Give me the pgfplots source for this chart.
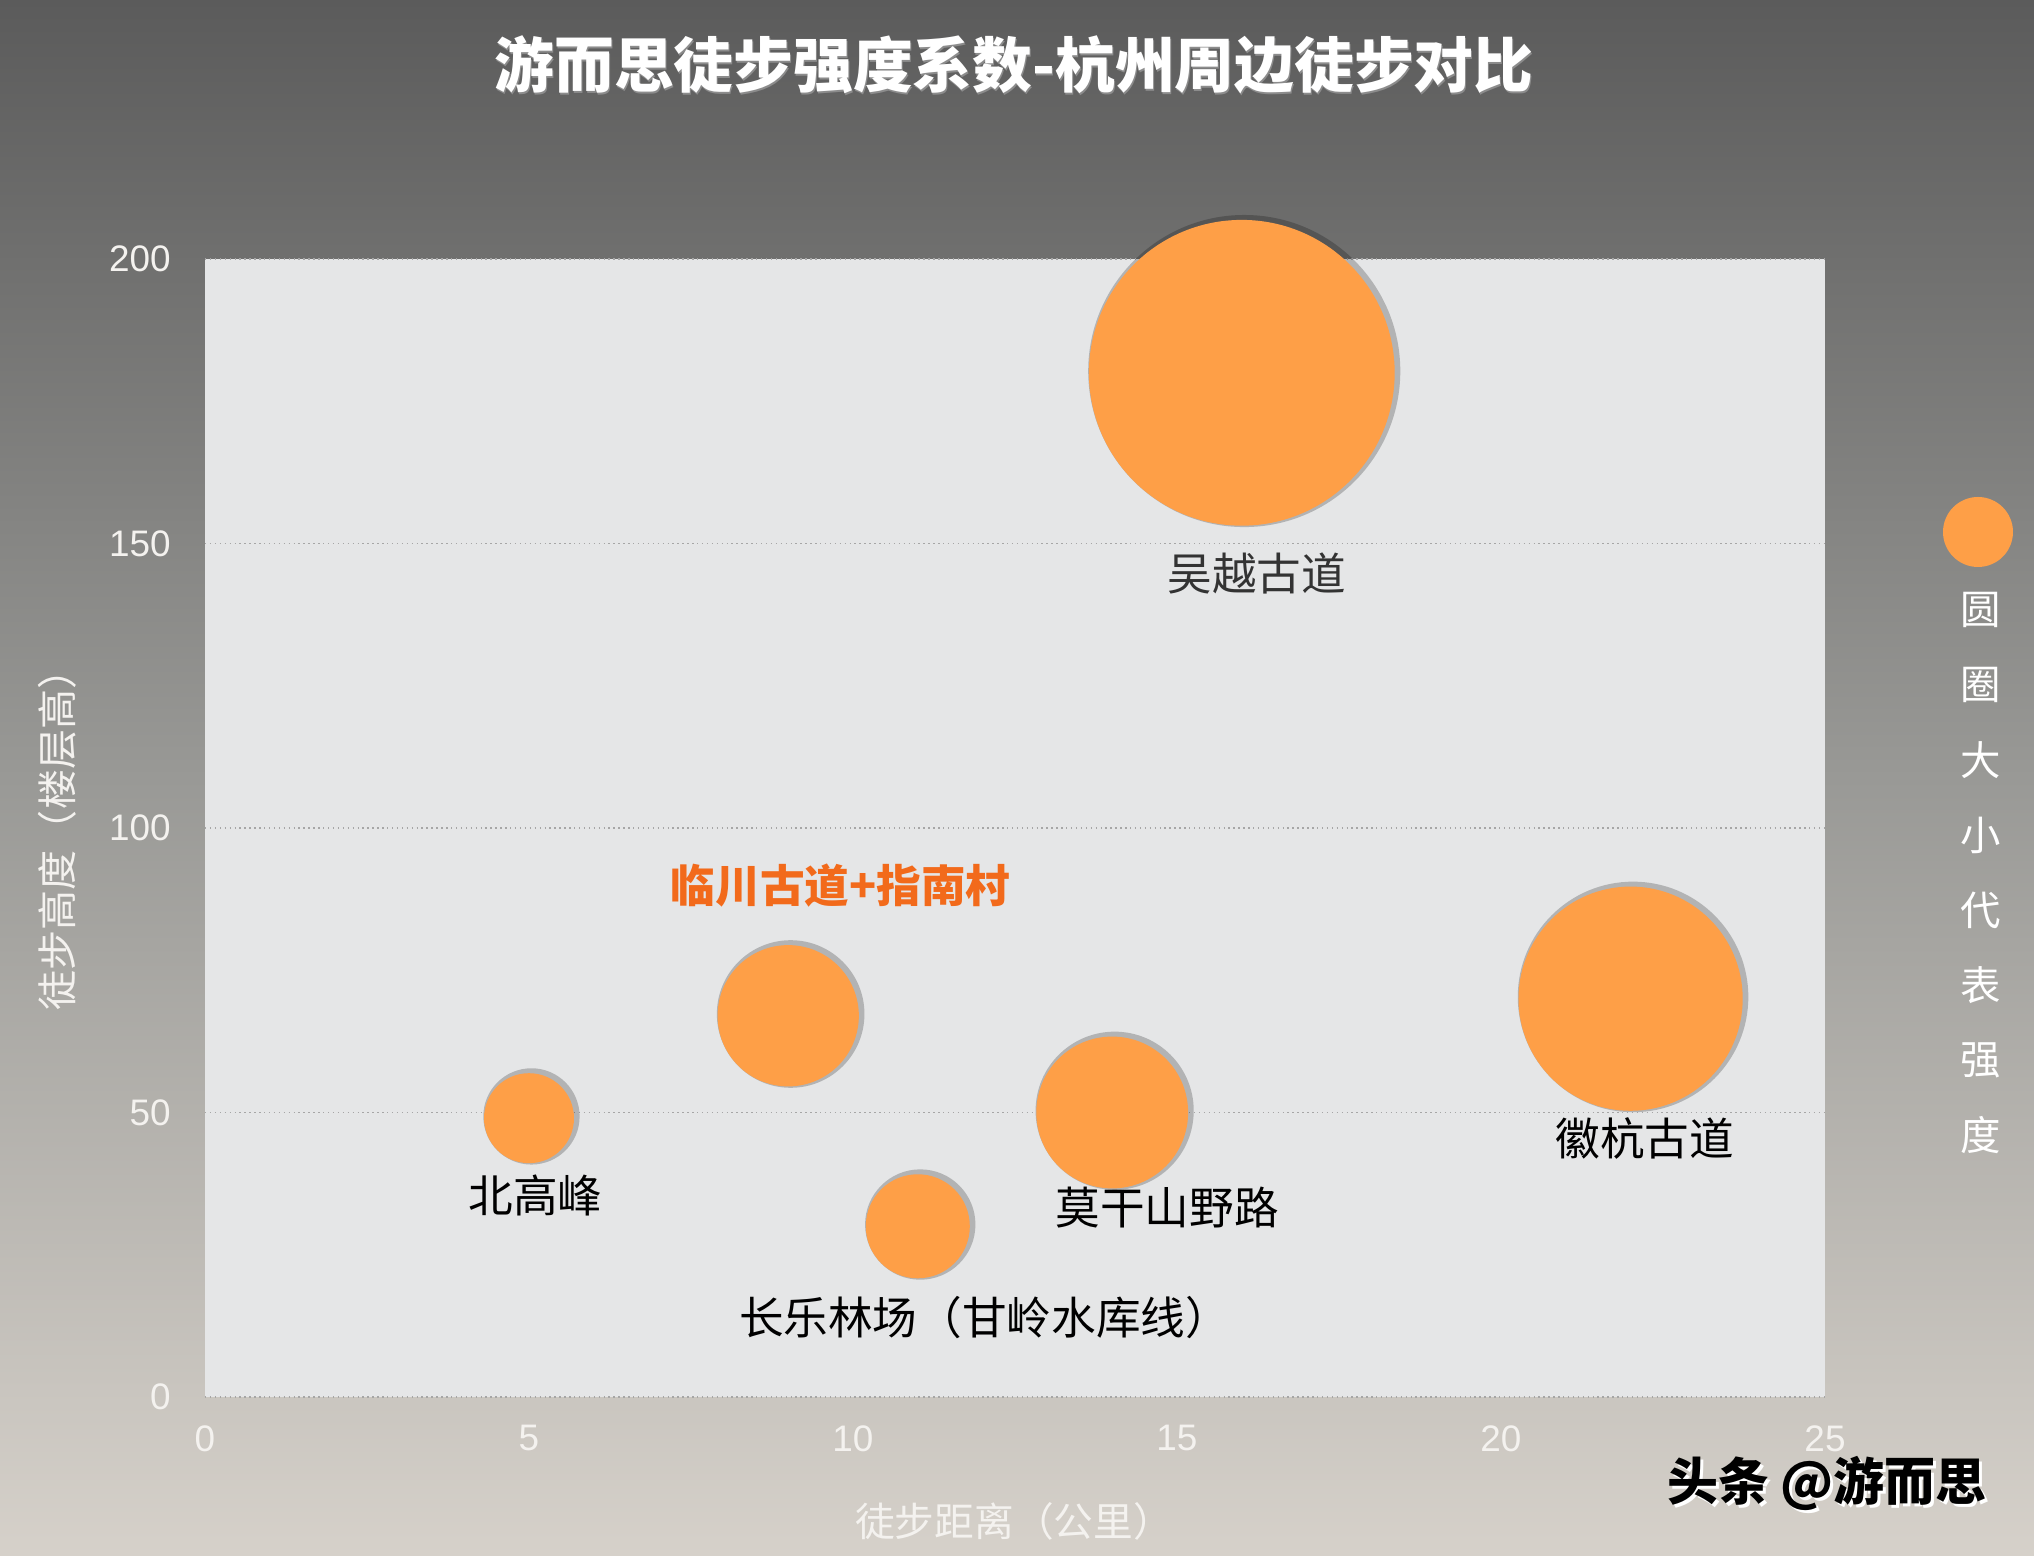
\documentclass[border=0pt]{standalone}
\usepackage{pgfplots}
\pgfplotsset{compat=1.18}
\usepackage{fontspec}
\setmainfont{Liberation Sans}
\newfontfamily\cjk{Noto Sans CJK SC}

\definecolor{bgtop}{HTML}{5B5B5B}
\definecolor{bgmid}{HTML}{999996}
\definecolor{bgbot}{HTML}{D6D1CA}
\definecolor{plotbg}{HTML}{E5E6E7}
\definecolor{bubble}{HTML}{FE9F47}
\definecolor{hilite}{HTML}{F26A1B}
\definecolor{axtext}{HTML}{F4F2EF}

% x = 距离 (公里), y = 高度 (楼层), r = 圆圈半径 (pt)
\pgfplotstableread{
x  y   r
5  49  12.8
9  67  20.1
11 30  14.8
14 50  21.6
16 180 43.5
22 70  31.9
}\routes

\begin{document}
\begin{tikzpicture}
\shade[top color=bgtop, bottom color=bgbot, middle color=bgmid]
  (-20.5mm,-15.9mm) rectangle (182.9mm,139.7mm);

\begin{axis}[
  at={(0,0)}, anchor=south west,
  scale only axis, width=162mm, height=113.8mm,
  xmin=0, xmax=25, ymin=0, ymax=200,
  xtick={0,5,...,25}, ytick={0,50,...,200},
  axis background/.style={fill=plotbg},
  axis line style={draw=none},
  major tick length=0pt,
  ymajorgrids, grid style={densely dotted, gray!70, line width=0.5pt},
  /pgf/number format/assume math mode=true,
  tick label style={font=\fontsize{10.5}{12}\selectfont, text=axtext},
  xticklabel style={yshift=-1.6mm},
  yticklabel style={xshift=-2.2mm},
  clip=false,
]
  % schatten
  \addplot[scatter, only marks, mark=*,
    scatter/use mapped color={draw opacity=0, fill=black},
    visualization depends on={\thisrow{r} \as \rad},
    scatter/@pre marker code/.append style={/tikz/mark size=\rad+0.9pt},
    mark options={draw opacity=0, fill opacity=0.22},
    every mark/.append style={xshift=0.7pt, yshift=0.5pt}]
    table[x=x, y=y] {\routes};
  \addplot[scatter, only marks, mark=*,
    scatter/use mapped color={draw opacity=0, fill=bubble},
    visualization depends on={\thisrow{r} \as \rad},
    scatter/@pre marker code/.append style={/tikz/mark size=\rad},
    mark options={draw opacity=0}]
    table[x=x, y=y] {\routes};

  \begin{scope}[font=\cjk\fontsize{12.7}{14}\selectfont]
    \node at (axis cs:5.10,35.4) {北高峰};
    \node[text=hilite, font=\cjk\bfseries\fontsize{12.7}{14}\selectfont] at (axis cs:9.81,89.8) {临川古道+指南村};
    \node at (axis cs:12.03,13.9) {长乐林场（甘岭水库线）};
    \node at (axis cs:14.85,33.3) {莫干山野路};
    \node[text=black!80] at (axis cs:16.23,144.8) {吴越古道};
    \node at (axis cs:22.22,45.4) {徽杭古道};
  \end{scope}
\end{axis}

% titel
\node[text=black!45, font=\cjk\bfseries\fontsize{17}{19}\selectfont] at (81.0mm,133.0mm) {游而思徒步强度系数-杭州周边徒步对比};
\node[text=white, font=\cjk\bfseries\fontsize{17}{19}\selectfont] at (80.9mm,133.2mm) {游而思徒步强度系数-杭州周边徒步对比};

% achsentitel
\node[text=axtext, font=\cjk\fontsize{11.3}{13}\selectfont] at (80.9mm,-12.4mm) {徒步距离（公里）};
\node[text=axtext, font=\cjk\fontsize{11.4}{13}\selectfont, rotate=90] at (-14.8mm,56.7mm) {徒步高度（楼层高）};

% legende
\fill[bubble] (177.3mm,86.5mm) circle (3.5mm);
\foreach \c [count=\i from 0] in {圆,圈,大,小,代,表,强,度}
  \node[text=white, font=\cjk\fontsize{11.5}{12}\selectfont] at (177.6mm,78.7mm-\i*7.5mm) {\c};

% wasserzeichen
\node[text=white, font=\cjk\bfseries\fontsize{14.5}{16}\selectfont] at (162.5mm,-8.9mm) {头条 @游而思};
\node[text=black, font=\cjk\bfseries\fontsize{14.5}{16}\selectfont] at (162.2mm,-8.6mm) {头条 @游而思};

\pgfresetboundingbox
\useasboundingbox (-20.5mm,-15.9mm) rectangle (182.9mm,139.7mm);
\end{tikzpicture}
\end{document}
